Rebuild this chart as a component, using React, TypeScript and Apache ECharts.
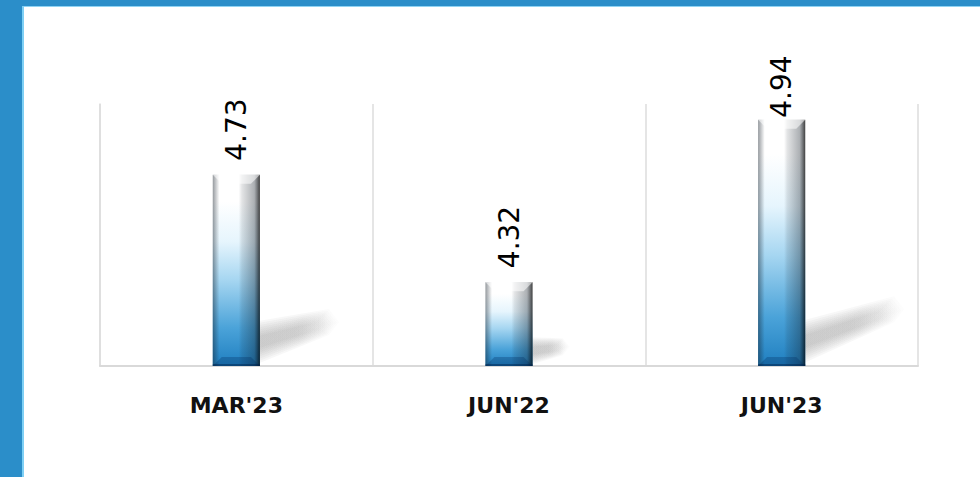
import React, { useEffect, useRef } from "react";
import * as echarts from "echarts";

const categories = ["MAR'23", "JUN'22", "JUN'23"];
const values = [4.73, 4.32, 4.94];
const axisMin = 4;
const axisMax = 5;

export default function App() {
  const ref = useRef<HTMLDivElement>(null);
  useEffect(() => {
    if (!ref.current) return;
    const chart = echarts.init(ref.current, undefined, { renderer: "svg" });
    const barFrac = 0.173;

    const shadowItem = (params: any, api: any) => {
      const idx = api.value(0);
      const val = api.value(1);
      const top = api.coord([idx, val]);
      const bot = api.coord([idx, axisMin]);
      const bw = api.size([1, 0])[0] * barFrac;
      const xr = top[0] + bw / 2;
      const base = bot[1];
      const h = base - top[1];
      const nearC = base - Math.min(22, 0.17 * h);
      const nearH = Math.min(21, 0.16 * h);
      const farX = xr + 0.36 * h;
      const farC = base - 0.23 * h;
      const farH = Math.min(12, 0.09 * h);
      const layers = 8;
      const children: any[] = [];
      for (let k = 0; k < layers; k++) {
        const f = k / layers;
        const hn = nearH * (1 - 0.85 * f) + 1;
        const hf = farH * (1 - 0.85 * f) + 1;
        const fx = farX - (farX - xr) * 0.18 * f;
        const fc = farC + (nearC - farC) * 0.18 * f;
        children.push({
          type: "polygon",
          shape: {
            points: [
              [xr - 8, nearC + hn],
              [fx, fc + hf],
              [fx + hf * 0.8, fc],
              [fx, fc - hf],
              [xr - 8, nearC - hn],
            ],
          },
          style: {
            fill: new echarts.graphic.LinearGradient(0, 0, 1, 0, [
              { offset: 0, color: "rgba(130,130,130,0.065)" },
              { offset: 0.6, color: "rgba(130,130,130,0.06)" },
              { offset: 1, color: "rgba(130,130,130,0.015)" },
            ]),
          },
        });
      }
      return { type: "group", silent: true, children };
    };

    const bevelItem = (params: any, api: any) => {
      const idx = api.value(0);
      const val = api.value(1);
      const top = api.coord([idx, val]);
      const bot = api.coord([idx, axisMin]);
      const bw = api.size([1, 0])[0] * barFrac;
      const x0 = top[0] - bw / 2;
      const x1 = top[0] + bw / 2;
      const y0 = top[1];
      const y1 = bot[1];
      const b = 9;
      return {
        type: "group",
        silent: true,
        children: [
          {
            type: "rect",
            shape: { x: x0, y: y0, width: bw, height: y1 - y0 },
            style: {
              fill: new echarts.graphic.LinearGradient(0, 0, 1, 0, [
                { offset: 0, color: "rgba(20,30,40,0.45)" },
                { offset: 0.14, color: "rgba(20,30,40,0.0)" },
                { offset: 0.55, color: "rgba(20,30,40,0.0)" },
                { offset: 0.62, color: "rgba(20,30,40,0.12)" },
                { offset: 0.88, color: "rgba(20,30,40,0.35)" },
                { offset: 1, color: "rgba(0,0,0,0.75)" },
              ]),
            },
          },
          {
            type: "polygon",
            shape: {
              points: [
                [x0, y0],
                [x1, y0],
                [x1 - b, y0 + b],
                [x0 + b, y0 + b],
              ],
            },
            style: { fill: "rgba(255,255,255,0.55)" },
          },
          {
            type: "polygon",
            shape: {
              points: [
                [x0, y1],
                [x0 + b, y1 - b],
                [x1 - b, y1 - b],
                [x1, y1],
              ],
            },
            style: { fill: "rgba(0,40,90,0.28)" },
          },
          {
            type: "rect",
            shape: { x: x0, y: y1 - 2, width: bw, height: 2 },
            style: { fill: "rgba(0,30,70,0.45)" },
          },
        ],
      };
    };

    const seriesData = values.map((v, i) => [i, v]);

    chart.setOption({
      animation: false,
      backgroundColor: "#ffffff",
      graphic: [
        { type: "rect", shape: { x: 0, y: 0, width: 980, height: 6 }, style: { fill: "#2b8ec9" }, z: 10 },
        { type: "rect", shape: { x: 22, y: 6, width: 958, height: 1 }, style: { fill: "#8fd3f3" }, z: 10 },
        { type: "rect", shape: { x: 0, y: 0, width: 22, height: 477 }, style: { fill: "#2b8ec9" }, z: 11 },
        { type: "rect", shape: { x: 22, y: 6, width: 2, height: 471 }, style: { fill: "#7fd0f5" }, z: 10 },
      ],
      grid: { left: 100, right: 62, top: 104, bottom: 111 },
      xAxis: {
        type: "category",
        data: categories,
        axisLine: { show: true, lineStyle: { color: "#d9d9d9", width: 2 } },
        axisTick: { show: false },
        splitLine: { show: true, lineStyle: { color: "#dcdcdc", width: 1.5 } },
        axisLabel: {
          margin: 28,
          fontFamily: "DejaVu Sans",
          fontSize: 22,
          fontWeight: "bold",
          color: "#111111",
        },
      },
      yAxis: {
        type: "value",
        min: axisMin,
        max: axisMax,
        show: true,
        axisLine: { show: true, lineStyle: { color: "#dcdcdc", width: 1.5 } },
        axisLabel: { show: false },
        axisTick: { show: false },
        splitLine: { show: false },
      },
      series: [
        {
          type: "custom",
          name: "shadow",
          renderItem: shadowItem,
          data: seriesData,
          z: 1,
          silent: true,
        },
        {
          type: "bar",
          name: "value",
          data: values.map((v, i) => ({
            value: v,
            label: i === 2 ? { distance: 2 } : undefined,
          })),
          barWidth: "17.3%",
          z: 2,
          itemStyle: {
            color: new echarts.graphic.LinearGradient(0, 0, 0, 1, [
              { offset: 0, color: "#ffffff" },
              { offset: 0.14, color: "#ffffff" },
              { offset: 0.35, color: "#e6f5fd" },
              { offset: 0.55, color: "#a6d6f1" },
              { offset: 0.8, color: "#4ba3d9" },
              { offset: 1, color: "#1f7fc0" },
            ]),
          },
          label: {
            show: true,
            position: "top",
            rotate: 90,
            align: "left",
            verticalAlign: "middle",
            distance: 14,
            fontFamily: "DejaVu Sans",
            fontSize: 28,
            color: "#000000",
          },
        },
        {
          type: "custom",
          name: "bevel",
          renderItem: bevelItem,
          data: seriesData,
          z: 3,
          silent: true,
        },
      ],
    });
    return () => chart.dispose();
  }, []);
  return (
    <div
      ref={ref}
      style={{ position: "fixed", left: 0, top: 0, width: 980, height: 477 }}
    />
  );
}
